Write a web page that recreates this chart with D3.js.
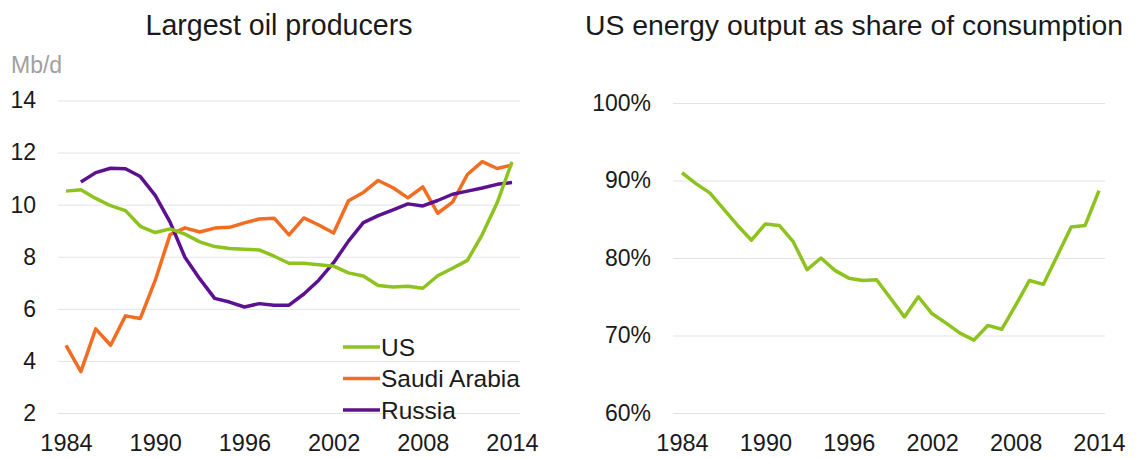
<!DOCTYPE html>
<html>
<head>
<meta charset="utf-8">
<script src="https://cdnjs.cloudflare.com/ajax/libs/d3/7.8.5/d3.min.js"></script>
<style>
  body { margin: 0; background: #fff; }
  svg text { font-family: "Liberation Sans", Arial, sans-serif; fill: #1a1a1a; }
  .grid line { stroke: #e3e3e3; stroke-width: 1; }
  .grid .domain { display: none; }
</style>
</head>
<body>
<div id="chart"></div>
<script>
// years shared by both panels
var years = d3.range(1984, 2015);
var yearTicks = [1984, 1990, 1996, 2002, 2008, 2014];

// left panel, million barrels per day
var oilTicks = [2, 4, 6, 8, 10, 12, 14];
var usOil = [10.52, 10.57, 10.24, 9.96, 9.77, 9.17, 8.93, 9.07, 8.87, 8.57, 8.39, 8.32, 8.29, 8.26, 8.02, 7.75,
  7.75, 7.69, 7.64, 7.38, 7.26, 6.90, 6.84, 6.87, 6.79, 7.27, 7.56, 7.86, 8.85, 10.07, 11.64];
var saudiOil = [4.60, 3.59, 5.23, 4.60, 5.73, 5.63, 7.09, 8.85, 9.11, 8.95, 9.10, 9.13, 9.30, 9.45, 9.48, 8.84,
  9.49, 9.22, 8.91, 10.15, 10.47, 10.93, 10.65, 10.26, 10.68, 9.67, 10.10, 11.16, 11.65, 11.39, 11.52];
// Russia series starts in 1985
var russiaOil = [null, 10.87, 11.23, 11.40, 11.38, 11.08, 10.36, 9.33, 7.98, 7.15, 6.40, 6.26, 6.07, 6.20, 6.14, 6.14,
  6.57, 7.10, 7.77, 8.60, 9.31, 9.58, 9.80, 10.03, 9.95, 10.16, 10.40, 10.52, 10.64, 10.78, 10.85];

// right panel, share of consumption
var shareTicks = [0.6, 0.7, 0.8, 0.9, 1.0];
var usShare = [0.910, 0.896, 0.884, 0.863, 0.842, 0.823, 0.844, 0.842, 0.821, 0.785, 0.800, 0.784, 0.774, 0.771, 0.772, 0.748,
  0.724, 0.750, 0.728, 0.716, 0.703, 0.694, 0.713, 0.708, 0.739, 0.771, 0.766, 0.803, 0.840, 0.842, 0.887];

var seriesNames = ["US", "Saudi Arabia", "Russia"];
var colors = {"US": "#8dc21f", "Saudi Arabia": "#f26d21", "Russia": "#5c1190"};

var svg = d3.select("#chart").append("svg")
  .attr("width", 1142)
  .attr("height", 458);

// ---------- left panel ----------
var x1 = d3.scaleLinear().domain([1984, 2014]).range([66, 512]);
var y1 = d3.scaleLinear().domain([2, 14]).range([413, 100.5]);

svg.append("text")
  .attr("x", 279).attr("y", 35)
  .attr("text-anchor", "middle")
  .style("font-size", "28.6px")
  .text("Largest oil producers");

svg.append("text")
  .attr("x", 11).attr("y", 73)
  .style("font-size", "23px")
  .style("fill", "#a0a0a0")
  .text("Mb/d");

svg.append("g")
  .attr("class", "grid")
  .attr("transform", "translate(58,0)")
  .call(d3.axisLeft(y1).tickValues(oilTicks).tickSize(-462).tickPadding(22))
  .selectAll("text").style("font-size", "23px");

svg.append("g")
  .attr("class", "grid")
  .attr("transform", "translate(0,413)")
  .call(d3.axisBottom(x1).tickValues(yearTicks).tickFormat(d3.format("d")).tickSize(0).tickPadding(21))
  .selectAll("text").style("font-size", "23.5px");

var oilSeries = [
  {name: "Saudi Arabia", values: saudiOil},
  {name: "Russia", values: russiaOil},
  {name: "US", values: usOil}
];

var line1 = d3.line()
  .defined(d => d.v != null)
  .x(d => x1(d.year))
  .y(d => y1(d.v));

svg.selectAll(".oil")
  .data(oilSeries)
  .enter().append("path")
  .attr("class", "oil")
  .attr("fill", "none")
  .attr("stroke", d => colors[d.name])
  .attr("stroke-width", 3.5)
  .attr("stroke-linejoin", "round")
  .attr("d", d => line1(years.map((yr, i) => ({year: yr, v: d.values[i]}))));

// legend
var legend = svg.append("g").attr("transform", "translate(343,347)");
seriesNames.forEach(function(name, i) {
  legend.append("line")
    .attr("x1", 0).attr("x2", 37)
    .attr("y1", i * 31.5).attr("y2", i * 31.5)
    .attr("stroke", colors[name])
    .attr("stroke-width", 3.5);
  legend.append("text")
    .attr("x", 38).attr("y", i * 31.5 + 8.5)
    .style("font-size", "24.5px")
    .text(name);
});

// ---------- right panel ----------
var x2 = d3.scaleLinear().domain([1984, 2014]).range([682, 1099]);
var y2 = d3.scaleLinear().domain([0.6, 1.0]).range([413, 103]);

svg.append("text")
  .attr("x", 854).attr("y", 35)
  .attr("text-anchor", "middle")
  .style("font-size", "28.4px")
  .text("US energy output as share of consumption");

svg.append("g")
  .attr("class", "grid")
  .attr("transform", "translate(673,0)")
  .call(d3.axisLeft(y2).tickValues(shareTicks).tickFormat(d3.format(".0%")).tickSize(-432).tickPadding(22))
  .selectAll("text").style("font-size", "23px");

svg.append("g")
  .attr("class", "grid")
  .attr("transform", "translate(0,413)")
  .call(d3.axisBottom(x2).tickValues(yearTicks).tickFormat(d3.format("d")).tickSize(0).tickPadding(21))
  .selectAll("text").style("font-size", "23.5px");

var line2 = d3.line()
  .x((d, i) => x2(years[i]))
  .y(d => y2(d));

svg.append("path")
  .datum(usShare)
  .attr("fill", "none")
  .attr("stroke", colors["US"])
  .attr("stroke-width", 3.5)
  .attr("stroke-linejoin", "round")
  .attr("d", line2);
</script>
</body>
</html>
